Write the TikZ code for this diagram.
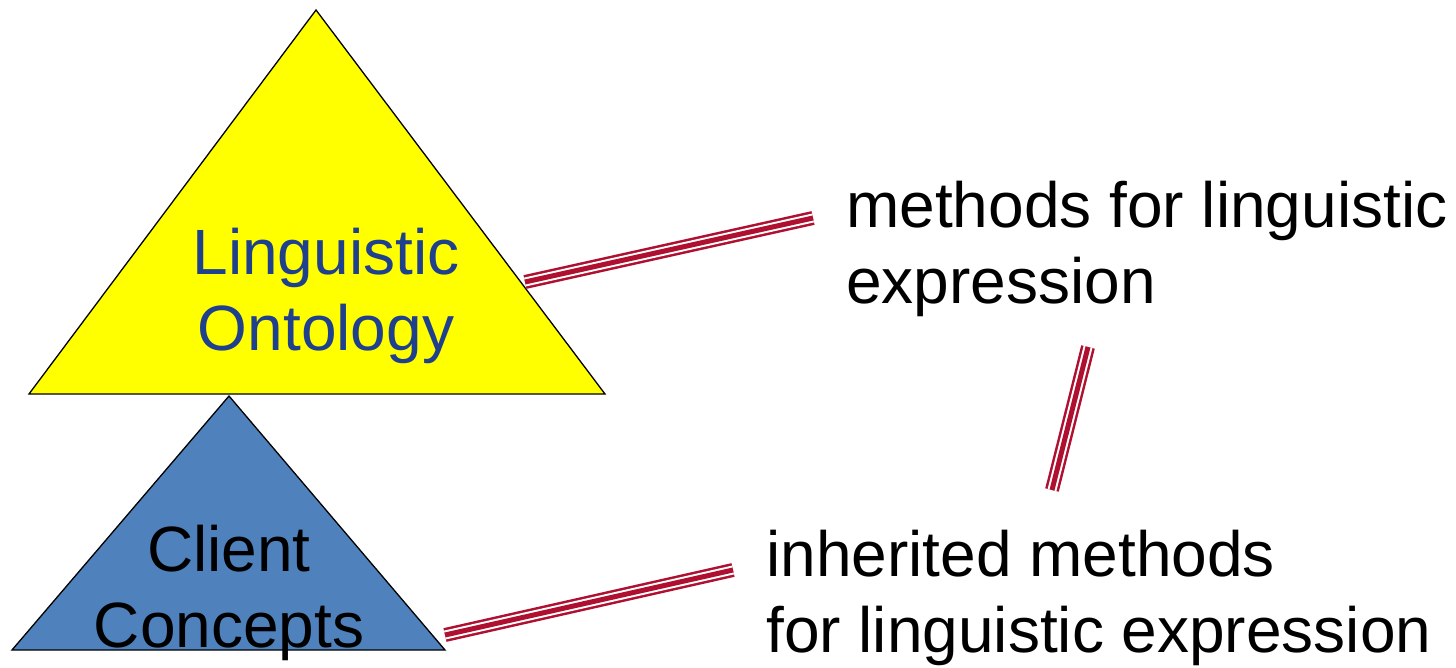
\documentclass[tikz,border=0pt]{standalone}
\usepackage{fontspec}
\setmainfont{Liberation Sans}
\definecolor{ontyellow}{RGB}{255,255,0}
\definecolor{clientblue}{RGB}{79,129,189}
\definecolor{labelblue}{RGB}{31,64,140}
\definecolor{linkred}{RGB}{176,16,48}
\begin{document}
\begin{tikzpicture}[x=1pt,y=-1pt,
  bigtext/.style={font=\fontsize{64}{76}\selectfont, inner sep=0pt, align=left},
  tri/.style={draw=black, line width=1.3pt, line join=miter},
  link/.style={line width=14pt, draw=linkred, line cap=butt,
    postaction={draw=white, line width=9pt},
    postaction={draw=linkred, line width=5pt}}]
\useasboundingbox (0,0) rectangle (1456,668);

% the two stacked triangles
\coordinate (onttop) at (316,10);
\coordinate (ontleft) at (29,394);
\coordinate (ontright) at (605,394);
\coordinate (clitop) at (229,396);
\coordinate (clileft) at (12,650);
\coordinate (cliright) at (445,650);
\draw[tri, fill=ontyellow] (onttop) -- (ontright) -- (ontleft) -- cycle;
\draw[tri, fill=clientblue] (clitop) -- (cliright) -- (clileft) -- cycle;

% labels inside the triangles (anchor: baseline of the last line)
\node[bigtext, align=center, text=labelblue, anchor=base] (ont) at (326,350)
  {Linguistic\\Ontology};
\node[bigtext, align=center, anchor=base] (cli) at (229,647)
  {Client\\Concepts};

% method texts
\node[bigtext, anchor=base west] (meth) at (846,303)
  {methods for linguistic\\expression};
\node[bigtext, anchor=base west] (inh) at (766,652)
  {inherited methods\\for linguistic expression};

% connector end points
\coordinate (a1) at (525,282);
\coordinate (a2) at (813,218);
\coordinate (b1) at (1052,490);
\coordinate (b2) at (1088,347);
\coordinate (c1) at (445,635);
\coordinate (c2) at (733,570);
\draw[link] (a1) -- (a2);
\draw[link] (b2) -- (b1);
\draw[link] (c1) -- (c2);
\end{tikzpicture}
\end{document}
